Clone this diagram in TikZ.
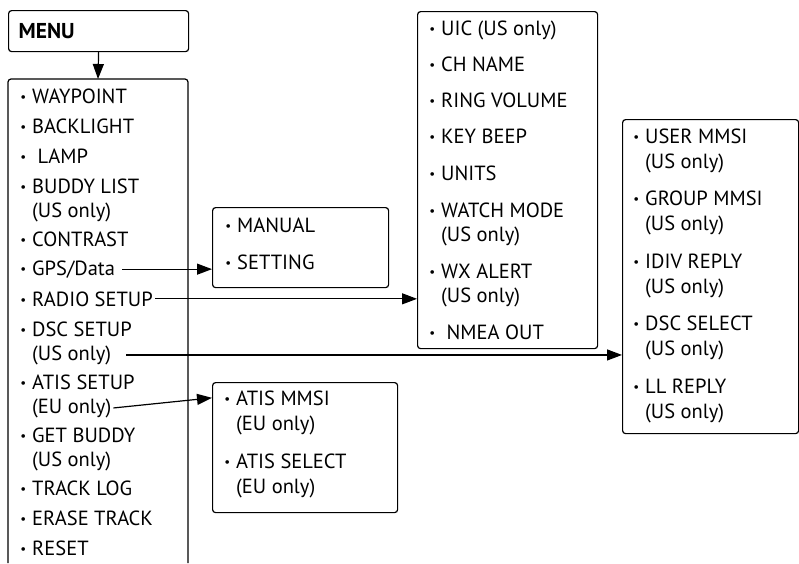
\documentclass[tikz,border=0pt]{standalone}
\usepackage{fontspec}
\setmainfont{PT Sans}
\usetikzlibrary{arrows.meta}

\newcommand{\bul}{\llap{\raisebox{1.5pt}{\fontsize{13}{13}\selectfont •}\hspace{6pt}}}

\tikzset{
  box/.style={draw, rounded corners=3pt, line width=1.2pt, inner sep=0pt, anchor=north west},
  item/.style={anchor=base west, inner sep=2pt, font=\fontsize{20.5}{20.5}\selectfont},
  arr/.style={line width=1.2pt, -{Triangle[length=15pt,width=11pt]}}
}

\begin{document}
\begin{tikzpicture}[x=1pt,y=-1pt]
        \useasboundingbox (0,0) rectangle (799,563);
        \node[box, minimum width=180pt, minimum height=41pt, text width=160pt, inner xsep=10pt, align=left, font=\fontsize{21.5}{21.5}\selectfont\bfseries] (menu) at (8,10) {MENU};
        \coordinate (listtop) at (98,79);
        \draw[line width=1.2pt, rounded corners=3pt] (8,563) |- (listtop) -| (188,563);
        \draw[arr] (menu.south) -- (listtop);

        \node[item] (wayp) at (30,103) {\bul WAYPOINT};
        \node[item] (back) at (30,133) {\bul BACKLIGHT};
        \node[item] (lamp) at (30,163) {\bul\ LAMP};
        \node[item] (buddya) at (30,193) {\bul BUDDY LIST};
        \node[item] (buddyb) at (30,217) {(US only)};
        \node[item] (contr) at (30,246) {\bul CONTRAST};
        \node[item] (gps) at (30,275) {\bul GPS/Data};
        \node[item] (radio) at (30,306) {\bul RADIO SETUP};
        \node[item] (dsca) at (30,336) {\bul DSC SETUP};
        \node[item] (dscb) at (30,360) {(US only)};
        \node[item] (atisa) at (30,389) {\bul ATIS SETUP};
        \node[item] (atisb) at (30,413) {(EU only)};
        \node[item] (geta) at (30,442) {\bul GET BUDDY};
        \node[item] (getb) at (30,466) {(US only)};
        \node[item] (track) at (30,495) {\bul TRACK LOG};
        \node[item] (erase) at (30,525) {\bul ERASE TRACK};
        \node[item] (reset) at (30,555) {\bul RESET};

        \node[box, minimum width=176pt, minimum height=80pt] (gpsbox) at (212,207) {};
        \node[item] (manual) at (235,232) {\bul MANUAL};
        \node[item] (setting) at (235,269) {\bul SETTING};

        \node[box, minimum width=180pt, minimum height=337pt] (radiobox) at (417,11) {};
        \node[item] (uic) at (439,35) {\bul UIC (US only)};
        \node[item] (chname) at (439,71) {\bul CH NAME};
        \node[item] (ring) at (439,107) {\bul RING VOLUME};
        \node[item] (beep) at (439,143) {\bul KEY BEEP};
        \node[item] (units) at (439,180) {\bul UNITS};
        \node[item] (watcha) at (439,217) {\bul WATCH MODE};
        \node[item] (watchb) at (439,241) {(US only)};
        \node[item] (wxa) at (439,278) {\bul WX ALERT};
        \node[item] (wxb) at (439,302) {(US only)};
        \node[item] (nmea) at (439,339) {\bul\ NMEA OUT};

        \node[box, minimum width=176pt, minimum height=314pt] (dscbox) at (622,119) {};
        \node[item] (usera) at (643,143) {\bul USER MMSI};
        \node[item] (userb) at (643,168) {(US only)};
        \node[item] (groupa) at (643,205) {\bul GROUP MMSI};
        \node[item] (groupb) at (643,230) {(US only)};
        \node[item] (idiva) at (643,268) {\bul IDIV REPLY};
        \node[item] (idivb) at (643,293) {(US only)};
        \node[item] (dsela) at (643,330) {\bul DSC SELECT};
        \node[item] (dselb) at (643,355) {(US only)};
        \node[item] (lla) at (643,393) {\bul LL REPLY};
        \node[item] (llb) at (643,418) {(US only)};

        \node[box, minimum width=185pt, minimum height=130pt] (atisbox) at (212,382) {};
        \node[item] (mmsia) at (234,405) {\bul ATIS MMSI};
        \node[item] (mmsib) at (234,430) {(EU only)};
        \node[item] (asela) at (234,468) {\bul ATIS SELECT};
        \node[item] (aselb) at (234,493) {(EU only)};

        \draw[arr] ([xshift=5pt]gps.east) -- (gps.east -| gpsbox.west);
        \draw[arr] (radio.east) -- (radio.east -| radiobox.west);
        \draw[arr] ([xshift=13pt]dscb.east) -- (dscb.east -| dscbox.west);
        \draw[arr] (atisb.east) -- (atisbox.west |- mmsia);
    \end{tikzpicture}
\end{document}
